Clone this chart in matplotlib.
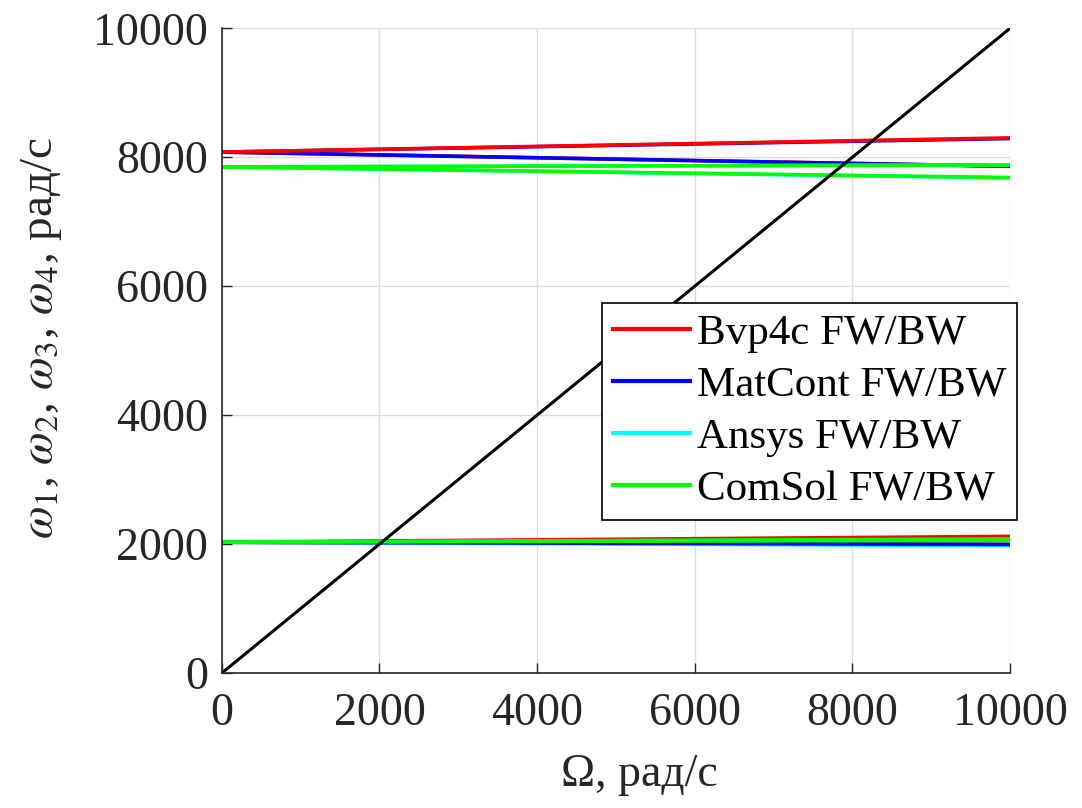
import matplotlib
matplotlib.use("Agg")
import matplotlib.pyplot as plt
from matplotlib.lines import Line2D

plt.rcParams['font.family'] = ['Liberation Serif', 'DejaVu Serif']
plt.rcParams['mathtext.fontset'] = 'stix'

# rotor speed, rad/s
omega_rot = [0, 10000]

# upper pair of modes (FW / BW) for each method
up_bvp_fw = [8080, 8300]
up_bvp_bw = [8080, 7860]
up_mat_fw = [8080, 8290]
up_mat_bw = [8080, 7860]
up_ans_fw = [7850, 7880]
up_ans_bw = [7850, 7680]
up_com_fw = [7850, 7880]
up_com_bw = [7850, 7685]

# lower pair of modes (FW / BW)
lo_bvp_fw = [2030, 2120]
lo_bvp_bw = [2030, 1995]
lo_mat_fw = [2030, 2070]
lo_mat_bw = [2030, 1995]
lo_ans_fw = [2030, 2070]
lo_ans_bw = [2030, 1975]
lo_com_fw = [2030, 2080]
lo_com_bw = [2030, 2060]

labels = ["Bvp4c FW/BW", "MatCont FW/BW", "Ansys FW/BW", "ComSol FW/BW"]
colors = ["#ff0000", "#0000ff", "#00ffff", "#00ff00"]

fig = plt.figure(figsize=(10.82, 8.08), dpi=100)
ax = fig.add_axes([0.205, 0.167, 0.7285, 0.798])

lw = 2.6
# draw order chosen so that the visible overlaps look like the original
ax.plot(omega_rot, up_mat_fw, color=colors[1], lw=lw)
ax.plot(omega_rot, up_bvp_bw, color=colors[0], lw=lw)
ax.plot(omega_rot, up_mat_bw, color=colors[1], lw=lw)
ax.plot(omega_rot, up_bvp_fw, color=colors[0], lw=lw)
ax.plot(omega_rot, up_ans_fw, color=colors[2], lw=lw)
ax.plot(omega_rot, up_ans_bw, color=colors[2], lw=lw)
ax.plot(omega_rot, up_com_fw, color=colors[3], lw=lw)
ax.plot(omega_rot, up_com_bw, color=colors[3], lw=lw)

ax.plot(omega_rot, lo_bvp_bw, color=colors[0], lw=lw)
ax.plot(omega_rot, lo_bvp_fw, color=colors[0], lw=lw)
ax.plot(omega_rot, lo_ans_bw, color=colors[2], lw=lw)
ax.plot(omega_rot, lo_ans_fw, color=colors[2], lw=lw)
ax.plot(omega_rot, lo_mat_bw, color=colors[1], lw=lw)
ax.plot(omega_rot, lo_mat_fw, color=colors[1], lw=lw)
ax.plot(omega_rot, lo_com_fw, color=colors[3], lw=lw)
ax.plot(omega_rot, lo_com_bw, color=colors[3], lw=lw)

# Omega = omega line
ax.plot(omega_rot, omega_rot, color="black", lw=2.2)

ax.set_xlim(0, 10000)
ax.set_ylim(0, 10000)
ticks = [0, 2000, 4000, 6000, 8000, 10000]
ax.set_xticks(ticks)
ax.set_yticks(ticks)
ax.grid(True, color="#dcdcdc", lw=1)
ax.set_axisbelow(True)
for s in ["top", "right"]:
    ax.spines[s].set_visible(False)
for s in ["left", "bottom"]:
    ax.spines[s].set_color("#262626")
    ax.spines[s].set_linewidth(1.2)
ax.tick_params(direction="in", length=7, width=1, colors="#262626",
               labelsize=33)
ax.tick_params(axis="x", pad=14)
ax.tick_params(axis="y", pad=10)

ax.set_xlabel("Ω, рад/с", fontsize=33, color="#262626")
ax.xaxis.set_label_coords(0.53, -0.125)
ax.set_ylabel(r"$\omega_1$, $\omega_2$, $\omega_3$, $\omega_4$, рад/с",
              fontsize=34, color="#262626")
ax.yaxis.set_label_coords(-0.2, 0.52)

handles = [Line2D([], [], color=c, lw=3) for c in colors]
leg = ax.legend(handles, labels, loc="upper right",
                bbox_to_anchor=(1017 / 1082, (808 - 303) / 808),
                bbox_transform=fig.transFigure, fontsize=31,
                frameon=True, fancybox=False, edgecolor="black",
                framealpha=1, handlelength=1.8, handletextpad=0.15,
                labelspacing=0.3, borderpad=0.25, borderaxespad=0)
leg.get_frame().set_linewidth(1.2)

fig.savefig("out.png", dpi=100)
